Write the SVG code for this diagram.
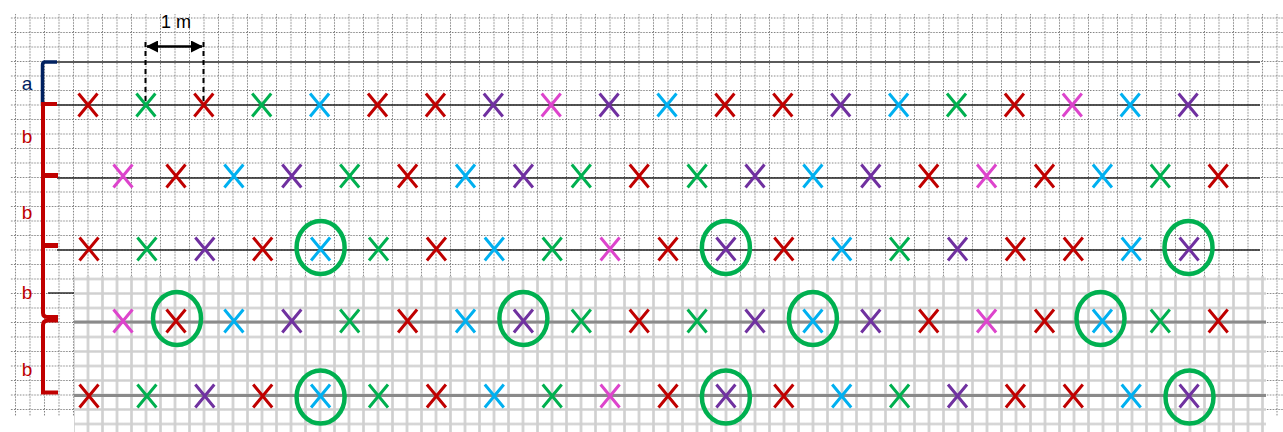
<svg xmlns="http://www.w3.org/2000/svg" xmlns:xlink="http://www.w3.org/1999/xlink" width="1283" height="432" viewBox="0 0 1283 432">
<style>
.lab{font-family:"Liberation Sans",Arial,sans-serif;text-anchor:middle}
.r{stroke:#C00000}.g{stroke:#00B050}.u{stroke:#00B0F0}.p{stroke:#7030A0}.m{stroke:#DD44CC}
.xm use{fill:none;stroke-width:3}
.ring{fill:none;stroke:#00B050;stroke-width:4.5}
.row{stroke:#222;stroke-width:1.6}
.rowl{stroke:#8a8a8a;stroke-width:3}
</style>
<defs>
<path id="x" d="M-9.5,-11.5L9.5,11.5M9.5,-11.5L-9.5,11.5"/>
<pattern id="dots" patternUnits="userSpaceOnUse" x="8.25" y="10.75" width="14.5" height="14.5">
<path d="M0,7.25H14.5M7.25,0V14.5" stroke="#7a7a7a" stroke-width="1" stroke-dasharray="1.45 1.45" fill="none"/>
</pattern>
<pattern id="solid" patternUnits="userSpaceOnUse" x="8.25" y="10.75" width="14.5" height="14.5">
<path d="M0,7.25H14.5M7.25,0V14.5" stroke="#d0d0d0" stroke-width="2.6" fill="none"/>
</pattern>
<filter id="soft" x="-5%" y="-20%" width="110%" height="140%"><feGaussianBlur stdDeviation="0.5"/></filter>
<marker id="ah" viewBox="0 0 12 12" refX="11" refY="6" markerWidth="12" markerHeight="12" markerUnits="userSpaceOnUse" orient="auto-start-reverse">
<path d="M0,0L12,6L0,12z" fill="#000"/>
</marker>
</defs>
<rect width="1283" height="432" fill="#fff"/>
<rect x="10" y="14" width="1273" height="402" fill="url(#dots)"/>
<g id="photo-region">
<rect x="74" y="276" width="1192" height="156" fill="#fff"/>
<rect x="74" y="276" width="1192" height="156" fill="url(#solid)" filter="url(#soft)"/>
</g>
<g id="row-lines">
<line x1="57" y1="62" x2="1260" y2="62" stroke="#5a5a5a" stroke-width="2"/>
<line class="row" x1="57" y1="105" x2="1260" y2="105"/>
<line class="row" x1="57" y1="178" x2="1260" y2="178"/>
<line class="row" x1="57" y1="250" x2="1260" y2="250"/>
<line x1="48" y1="293" x2="74" y2="293" stroke="#222" stroke-width="1.4"/>
<line class="rowl" x1="74" y1="322" x2="1266" y2="322"/>
<line class="rowl" x1="74" y1="395.5" x2="1266" y2="395.5"/>
</g>
<g id="brackets">
<path d="M57,62H45Q42.5,62 42.5,65V104" fill="none" stroke="#002060" stroke-width="3.5"/>
<path d="M57,104H43V313Q43,317 48,317H58" fill="none" stroke="#C00000" stroke-width="4"/>
<rect x="41" y="173" width="17" height="5" fill="#C00000"/>
<rect x="41" y="243" width="17" height="5" fill="#C00000"/>
<path d="M58,320.5H48Q43,320.5 43,325V392.5H58" fill="none" stroke="#C00000" stroke-width="4"/>
<text class="lab" x="27" y="90" font-size="19" fill="#002060">a</text>
<text class="lab" x="27" y="143" font-size="19" fill="#C00000">b</text>
<text class="lab" x="27" y="219" font-size="19" fill="#C00000">b</text>
<text class="lab" x="27" y="299" font-size="19" fill="#C00000">b</text>
<text class="lab" x="27" y="376" font-size="19" fill="#C00000">b</text>
</g>
<g id="dimension">
<line x1="145.5" y1="42" x2="145.5" y2="105" stroke="#000" stroke-width="2" stroke-dasharray="5 4"/>
<line x1="203.5" y1="42" x2="203.5" y2="105" stroke="#000" stroke-width="2" stroke-dasharray="5 4"/>
<line x1="147" y1="46.5" x2="202" y2="46.5" stroke="#000" stroke-width="2.5" marker-start="url(#ah)" marker-end="url(#ah)"/>
<text class="lab" x="176" y="28" font-size="18" fill="#000">1 m</text>
</g>
<g id="row1" class="xm">
<use href="#x" x="88" y="105" class="r"/><use href="#x" x="145.9" y="105" class="g"/><use href="#x" x="203.8" y="105" class="r"/><use href="#x" x="261.7" y="105" class="g"/><use href="#x" x="319.6" y="105" class="u"/><use href="#x" x="377.5" y="105" class="r"/><use href="#x" x="435.4" y="105" class="r"/><use href="#x" x="493.3" y="105" class="p"/><use href="#x" x="551.2" y="105" class="m"/><use href="#x" x="609.1" y="105" class="p"/><use href="#x" x="667" y="105" class="u"/><use href="#x" x="724.9" y="105" class="r"/><use href="#x" x="782.8" y="105" class="r"/><use href="#x" x="840.7" y="105" class="p"/><use href="#x" x="898.6" y="105" class="u"/><use href="#x" x="956.5" y="105" class="g"/><use href="#x" x="1014.4" y="105" class="r"/><use href="#x" x="1072.3" y="105" class="m"/><use href="#x" x="1130.2" y="105" class="u"/><use href="#x" x="1188.1" y="105" class="p"/>
</g>
<g id="row2" class="xm">
<use href="#x" x="123" y="176" class="m"/><use href="#x" x="176" y="176" class="r"/><use href="#x" x="233.9" y="176" class="u"/><use href="#x" x="291.8" y="176" class="p"/><use href="#x" x="349.7" y="176" class="g"/><use href="#x" x="407.6" y="176" class="r"/><use href="#x" x="465.5" y="176" class="u"/><use href="#x" x="523.4" y="176" class="p"/><use href="#x" x="581.3" y="176" class="g"/><use href="#x" x="639.2" y="176" class="r"/><use href="#x" x="697.1" y="176" class="g"/><use href="#x" x="755" y="176" class="p"/><use href="#x" x="812.9" y="176" class="u"/><use href="#x" x="870.8" y="176" class="p"/><use href="#x" x="928.7" y="176" class="r"/><use href="#x" x="986.6" y="176" class="m"/><use href="#x" x="1044.5" y="176" class="r"/><use href="#x" x="1102.4" y="176" class="u"/><use href="#x" x="1160.3" y="176" class="g"/><use href="#x" x="1218.2" y="176" class="r"/>
</g>
<g id="row3" class="xm">
<use href="#x" x="89" y="249" class="r"/><use href="#x" x="146.9" y="249" class="g"/><use href="#x" x="204.8" y="249" class="p"/><use href="#x" x="262.7" y="249" class="r"/><use href="#x" x="320.6" y="249" class="u"/><use href="#x" x="378.5" y="249" class="g"/><use href="#x" x="436.4" y="249" class="r"/><use href="#x" x="494.3" y="249" class="u"/><use href="#x" x="552.2" y="249" class="g"/><use href="#x" x="610.1" y="249" class="m"/><use href="#x" x="668" y="249" class="r"/><use href="#x" x="725.9" y="249" class="p"/><use href="#x" x="783.8" y="249" class="r"/><use href="#x" x="841.7" y="249" class="u"/><use href="#x" x="899.6" y="249" class="g"/><use href="#x" x="957.5" y="249" class="p"/><use href="#x" x="1015.4" y="249" class="r"/><use href="#x" x="1073.3" y="249" class="r"/><use href="#x" x="1131.2" y="249" class="u"/><use href="#x" x="1189.1" y="249" class="p"/>
</g>
<g id="row4" class="xm" filter="url(#soft)">
<use href="#x" x="123" y="321" class="m"/><use href="#x" x="176" y="321" class="r"/><use href="#x" x="233.9" y="321" class="u"/><use href="#x" x="291.8" y="321" class="p"/><use href="#x" x="349.7" y="321" class="g"/><use href="#x" x="407.6" y="321" class="r"/><use href="#x" x="465.5" y="321" class="u"/><use href="#x" x="523.4" y="321" class="p"/><use href="#x" x="581.3" y="321" class="g"/><use href="#x" x="639.2" y="321" class="r"/><use href="#x" x="697.1" y="321" class="g"/><use href="#x" x="755" y="321" class="p"/><use href="#x" x="812.9" y="321" class="u"/><use href="#x" x="870.8" y="321" class="p"/><use href="#x" x="928.7" y="321" class="r"/><use href="#x" x="986.6" y="321" class="m"/><use href="#x" x="1044.5" y="321" class="r"/><use href="#x" x="1102.4" y="321" class="u"/><use href="#x" x="1160.3" y="321" class="g"/><use href="#x" x="1218.2" y="321" class="r"/>
</g>
<g id="row5" class="xm" filter="url(#soft)">
<use href="#x" x="89" y="396" class="r"/><use href="#x" x="146.9" y="396" class="g"/><use href="#x" x="204.8" y="396" class="p"/><use href="#x" x="262.7" y="396" class="r"/><use href="#x" x="320.6" y="396" class="u"/><use href="#x" x="378.5" y="396" class="g"/><use href="#x" x="436.4" y="396" class="r"/><use href="#x" x="494.3" y="396" class="u"/><use href="#x" x="552.2" y="396" class="g"/><use href="#x" x="610.1" y="396" class="m"/><use href="#x" x="668" y="396" class="r"/><use href="#x" x="725.9" y="396" class="p"/><use href="#x" x="783.8" y="396" class="r"/><use href="#x" x="841.7" y="396" class="u"/><use href="#x" x="899.6" y="396" class="g"/><use href="#x" x="957.5" y="396" class="p"/><use href="#x" x="1015.4" y="396" class="r"/><use href="#x" x="1073.3" y="396" class="r"/><use href="#x" x="1131.2" y="396" class="u"/><use href="#x" x="1189.1" y="396" class="p"/>
</g>
<g id="circles">
<ellipse class="ring" cx="320.6" cy="247.5" rx="24" ry="26.5"/>
<ellipse class="ring" cx="725.9" cy="247.5" rx="24" ry="26.5"/>
<ellipse class="ring" cx="1188.5" cy="247.5" rx="24" ry="26.5"/>
<ellipse class="ring" cx="177" cy="318.5" rx="24" ry="26.5"/>
<ellipse class="ring" cx="523.4" cy="318.5" rx="24" ry="26.5"/>
<ellipse class="ring" cx="812.9" cy="318.5" rx="24" ry="26.5"/>
<ellipse class="ring" cx="1100.5" cy="318.5" rx="24" ry="26.5"/>
<ellipse class="ring" cx="320.6" cy="397" rx="24" ry="26.5"/>
<ellipse class="ring" cx="725.9" cy="397" rx="24" ry="26.5"/>
<ellipse class="ring" cx="1189.5" cy="397" rx="24" ry="26.5"/>
</g>
</svg>
